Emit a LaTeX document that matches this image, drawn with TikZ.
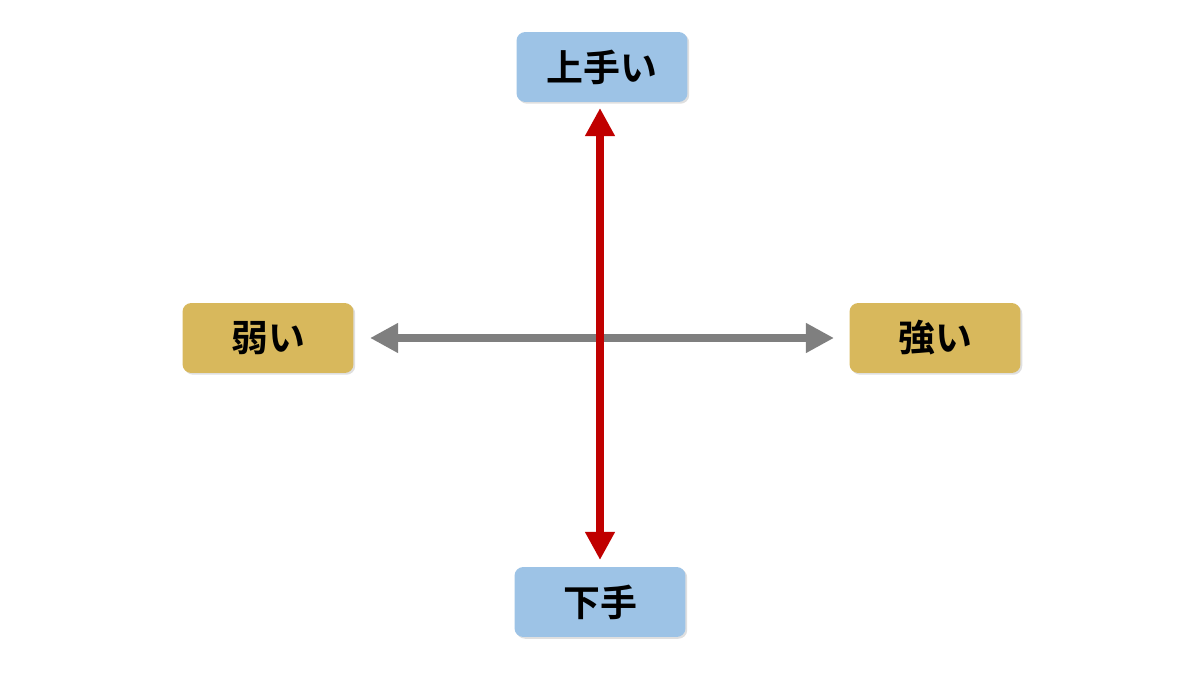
\documentclass[tikz,border=0pt]{standalone}
\usepackage{fontspec}
\newfontfamily\jpfont{Noto Sans CJK JP}[BoldFont={Noto Sans CJK JP Bold}]
\usetikzlibrary{shadows,arrows.meta}
\definecolor{boxblue}{RGB}{157,195,230}
\definecolor{boxgold}{RGB}{216,184,92}
\definecolor{axisred}{RGB}{192,0,0}
\definecolor{axisgray}{RGB}{127,127,127}
\tikzset{
	label box/.style = {rounded corners=5pt, minimum width=3.42cm, minimum height=1.4cm,
		font=\jpfont\bfseries\fontsize{21}{21}\selectfont, drop shadow={opacity=0.25, shadow xshift=1pt, shadow yshift=-1pt}},
	axis/.style = {line width=5pt, {Triangle[length=16pt,width=16pt]}-{Triangle[length=16pt,width=16pt]}}
}
\begin{document}
\begin{tikzpicture}[x = 0.02cm, y = -0.02cm]
	\useasboundingbox (0,0) rectangle (1200,675);
	
	\node[label box, fill=boxblue] (jouzu) at (602,67) {上手い};
	\node[label box, fill=boxblue] (heta) at (600,602) {下手};
	\node[label box, fill=boxgold] (yowai) at (268,338) {弱い};
	\node[label box, fill=boxgold] (tsuyoi) at (935,338) {強い};
	
	\coordinate (left end) at (370,338);
	\coordinate (right end) at (834,338);
	\coordinate (top end) at (600,108);
	\coordinate (bottom end) at (600,560);
	
	\draw[axis, color=axisgray] (left end) -- (right end);
	\draw[axis, color=axisred] (top end) -- (bottom end);
\end{tikzpicture}
\end{document}
